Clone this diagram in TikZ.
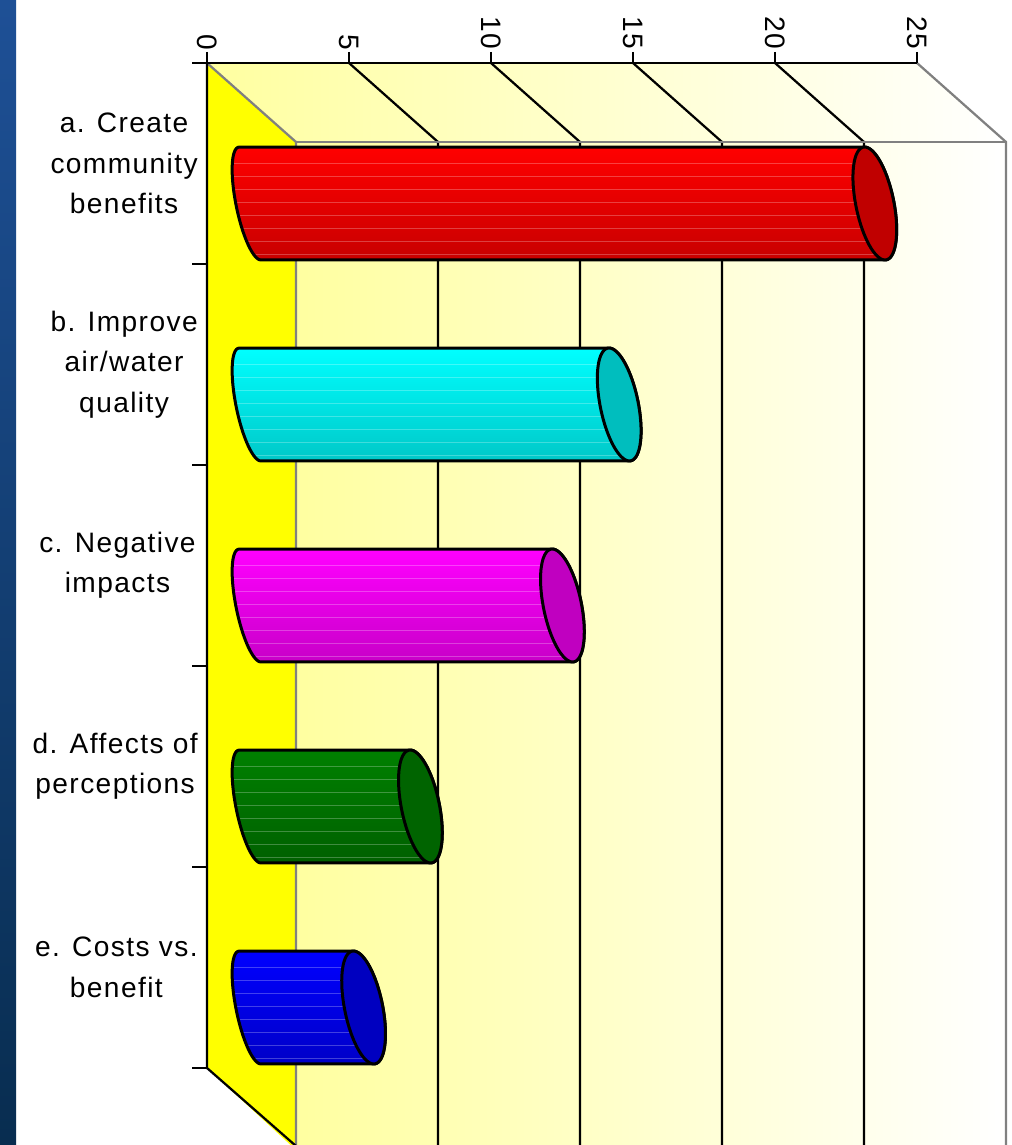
\documentclass[tikz,border=0pt]{standalone}
\usepackage{fontspec}
\setmainfont{Liberation Sans}[LetterSpace=5]
\usetikzlibrary{positioning}

\definecolor{slideblue}{RGB}{30,80,150}
\definecolor{slidedark}{RGB}{8,45,80}
\definecolor{paleyellow}{RGB}{255,255,160}
\definecolor{wallyellow}{RGB}{255,255,0}
\definecolor{gridgrey}{RGB}{128,128,128}
\definecolor{redTop}{RGB}{255,0,0}
\definecolor{redBot}{RGB}{200,0,0}
\definecolor{redCap}{RGB}{192,0,0}
\definecolor{cyanTop}{RGB}{0,255,255}
\definecolor{cyanBot}{RGB}{0,200,200}
\definecolor{cyanCap}{RGB}{0,190,190}
\definecolor{magTop}{RGB}{255,0,255}
\definecolor{magBot}{RGB}{200,0,200}
\definecolor{magCap}{RGB}{192,0,192}
\definecolor{greenTop}{RGB}{0,128,0}
\definecolor{greenBot}{RGB}{0,96,0}
\definecolor{greenCap}{RGB}{0,100,0}
\definecolor{blueTop}{RGB}{0,0,255}
\definecolor{blueBot}{RGB}{0,0,200}
\definecolor{blueCap}{RGB}{0,0,192}

\newcommand{\labelfont}{\fontsize{16}{23}\selectfont}
% cylinder outline: x of left centre, x of right centre, y of centre
\newcommand{\cyl}[3]{(#1-11.47,#3-56.35) -- (#2-11.47,#3-56.35)
  -- plot[domain=-90:90,variable=\t,samples=40] ({#2+18.62*cos(\t)+11.47*sin(\t)},{#3-3.79*cos(\t)+56.35*sin(\t)})
  -- plot[domain=90:270,variable=\t,samples=40] ({#1+13.7*cos(\t)+11.47*sin(\t)},{#3-2.8*cos(\t)+56.35*sin(\t)})
  -- cycle}
\newcommand{\capring}[2]{plot[domain=0:360,variable=\t,samples=72] ({#1+18.62*cos(\t)+11.47*sin(\t)},{#2-3.79*cos(\t)+56.35*sin(\t)}) -- cycle}

\begin{document}
\begin{tikzpicture}[x=0.02cm,y=-0.02cm]
	\tikzstyle{blackrule}=[black,line width=0.045cm]
	\tikzstyle{greyrule}=[gridgrey,line width=0.045cm]
	\tikzstyle{barline}=[black,line width=0.06cm,line join=round]
	\tikzstyle{catlabel}=[anchor=east,align=center,inner sep=0pt,font=\labelfont]
	\tikzstyle{ticklabel}=[anchor=east,rotate=-90,inner sep=0pt,font=\labelfont]
	\useasboundingbox (0,0) rectangle (1011,1145);
	\clip (0,0) rectangle (1011,1145);
	% slide
	\fill[white] (0,0) rectangle (1011,1145);
	\shade[top color=slideblue,bottom color=slidedark] (0,0) rectangle (16,1145);
	% walls of the chart box
	\shade[left color=paleyellow,right color=white] (296,142) rectangle (1006,1150);
	\shade[left color=paleyellow,right color=white] (207,63) -- (917,63) -- (1006,142) -- (296,142) -- cycle;
	\fill[wallyellow] (207,63) -- (296,142) -- (296,1150) -- (207,1068) -- cycle;
	\foreach \v in {5,10,15,20}
		\draw[blackrule] ({207+28.4*\v},63) -- ({296+28.4*\v},142) -- ({296+28.4*\v},1150);
	\draw[greyrule] (207,63) -- (296,142) -- (296,1150);
	\draw[greyrule] (917,63) -- (1006,142) -- (1006,1150);
	\draw[greyrule] (296,142) -- (1006,142);
	% axes
	\draw[blackrule] (192,63) -- (917,63);
	\foreach \v in {0,5,...,25} {
		\draw[blackrule] ({207+28.4*\v},52) -- ({207+28.4*\v},63);
		\node (tick\v) [ticklabel] at ({207+28.4*\v},50) {\v};
	}
	\draw[blackrule] (207,63) -- (207,1068) -- (296,1146);
	\foreach \i in {1,...,5}
		\draw[blackrule] (192,{63+201*\i}) -- (207,{63+201*\i});
	% bars
	\foreach \i/\v/\tone in {0/22/red,1/13/cyan,2/11/mag,3/6/green,4/4/blue} {
		\pgfmathsetmacro\yc{203.5+201*\i}
		\pgfmathsetmacro\xr{250+28.4*\v}
		\shade[top color=\tone Top,bottom color=\tone Bot] \cyl{250}{\xr}{\yc};
		\begin{scope}
			\clip \cyl{250}{\xr}{\yc};
			\foreach \k in {0,...,7}
				\draw[white,opacity=0.25,line width=0.4pt] (220,{\yc-40+13*\k}) -- ({\xr+30},{\yc-40+13*\k});
		\end{scope}
		\draw[barline] \cyl{250}{\xr}{\yc};
		\draw[barline,fill=\tone Cap] \capring{\xr}{\yc};
	}
	% category labels
	\node (labA) [catlabel] at (198,163.5) {a. Create\\community\\benefits};
	\node (labB) [catlabel] at (198,364.5) {b. Improve\\air/water\\quality};
	\node (labC) [catlabel] at (196,565.5) {c. Negative\\impacts};
	\node (labD) [catlabel] at (198,766.5) {d. Affects of\\perceptions};
	\node (labE) [catlabel] at (198,967.5) {e. Costs vs.\\benefit};
\end{tikzpicture}
\end{document}
